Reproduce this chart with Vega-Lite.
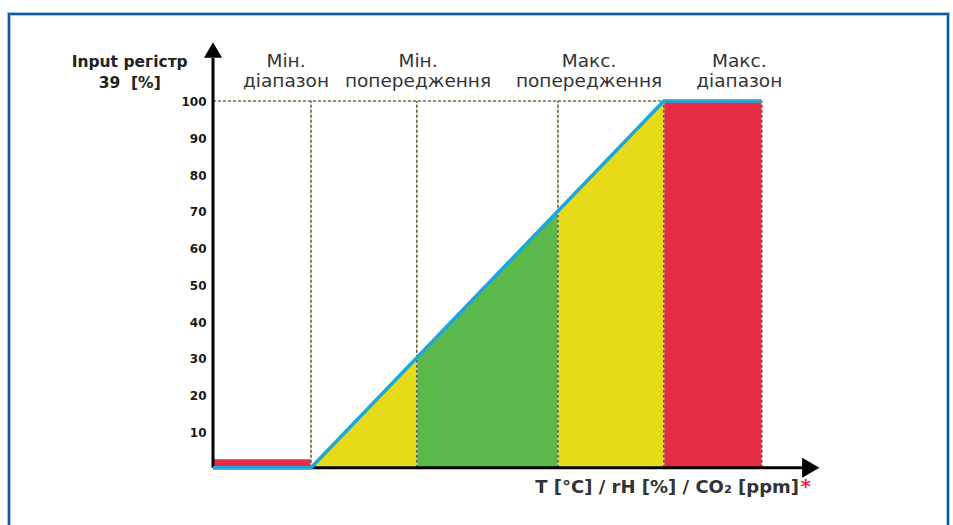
{
  "$schema": "https://vega.github.io/schema/vega-lite/v6.json",
  "width": 953,
  "height": 525,
  "autosize": "none",
  "padding": 0,
  "background": "white",
  "config": {"view": {"stroke": null}},
  "datasets": {
    "frame": [{"x": -20.82, "x2": 75.0, "y": -20, "y2": 123.73}],
    "minbar": [{"x": 0, "x2": 10, "y": 0, "y2": 2.3}],
    "zones": [
      {"zone": "y1", "x": 10, "y": 0}, {"zone": "y1", "x": 20.8, "y": 30},
      {"zone": "g", "x": 20.8, "y": 30}, {"zone": "g", "x": 35.2, "y": 70},
      {"zone": "y2", "x": 35.2, "y": 70}, {"zone": "y2", "x": 46, "y": 100},
      {"zone": "r", "x": 46, "y": 100}, {"zone": "r", "x": 56, "y": 100}
    ],
    "guides": [
      {"x": 0, "x2": 46, "y": 100, "y2": 100},
      {"x": 10, "x2": 10, "y": 0, "y2": 100},
      {"x": 20.8, "x2": 20.8, "y": 0, "y2": 100},
      {"x": 35.2, "x2": 35.2, "y": 0, "y2": 100},
      {"x": 46, "x2": 46, "y": 0, "y2": 100},
      {"x": 56, "x2": 56, "y": 0, "y2": 100}
    ],
    "axes": [
      {"x": 0, "x2": 0, "y": 0, "y2": 111.7},
      {"x": 0, "x2": 60.4, "y": 0, "y2": 0}
    ],
    "arrows": [
      {"x": 0, "y": 113.9, "shape": "triangle-up", "size": 324},
      {"x": 61.0, "y": 0, "shape": "triangle-right", "size": 400}
    ],
    "signal": [
      {"x": 0, "y": 0}, {"x": 10, "y": 0}, {"x": 46, "y": 100}, {"x": 56, "y": 100}
    ],
    "ticks": [
      {"x": -0.66, "y": 10, "label": "10"}, {"x": -0.66, "y": 20, "label": "20"},
      {"x": -0.66, "y": 30, "label": "30"}, {"x": -0.66, "y": 40, "label": "40"},
      {"x": -0.66, "y": 50, "label": "50"}, {"x": -0.66, "y": 60, "label": "60"},
      {"x": -0.66, "y": 70, "label": "70"}, {"x": -0.66, "y": 80, "label": "80"},
      {"x": -0.66, "y": 90, "label": "90"}, {"x": -0.66, "y": 100, "label": "100"}
    ],
    "headers": [
      {"x": 7.45, "y": 109.3, "label": "Мін."}, {"x": 7.45, "y": 103.8, "label": "діапазон"},
      {"x": 20.92, "y": 109.3, "label": "Мін."}, {"x": 20.92, "y": 103.8, "label": "попередження"},
      {"x": 38.37, "y": 109.3, "label": "Макс."}, {"x": 38.37, "y": 103.8, "label": "попередження"},
      {"x": 53.7, "y": 109.3, "label": "Макс."}, {"x": 53.7, "y": 103.8, "label": "діапазон"}
    ],
    "ytitle": [
      {"x": -8.5, "y": 109.3, "label": "Input регістр"},
      {"x": -8.5, "y": 103.6, "label": "39\u00a0 [%]"}
    ],
    "xtitle": [{"x": 59.8, "y": -6.9, "label": "T [°C] / rH [%] / CO₂ [ppm]"}],
    "asterisk": [{"x": 59.95, "y": -6.9, "label": "*"}]
  },
  "encoding": {
    "x": {"field": "x", "type": "quantitative", "axis": null,
          "scale": {"domain": [-21.7347, 75.5102], "nice": false, "zero": false}},
    "y": {"field": "y", "type": "quantitative", "axis": null,
          "scale": {"domain": [-15.63, 127.54], "nice": false, "zero": false}}
  },
  "layer": [
    {
      "data": {"name": "frame"},
      "mark": {"type": "rect", "fill": null, "stroke": "#a9c8e4", "strokeWidth": 4},
      "encoding": {"x2": {"field": "x2"}, "y2": {"field": "y2"}}
    },
    {
      "data": {"name": "frame"},
      "mark": {"type": "rect", "fill": null, "stroke": "#0f5a9c", "strokeWidth": 2},
      "encoding": {"x2": {"field": "x2"}, "y2": {"field": "y2"}}
    },
    {
      "data": {"name": "minbar"},
      "mark": {"type": "rect", "fill": "#e62c46"},
      "encoding": {"x2": {"field": "x2"}, "y2": {"field": "y2"}}
    },
    {
      "data": {"name": "zones"},
      "mark": {"type": "area", "opacity": 1},
      "encoding": {
        "y": {"field": "y", "type": "quantitative", "stack": null},
        "y2": {"datum": 0},
        "color": {"field": "zone", "type": "nominal", "legend": null,
                  "scale": {"domain": ["y1", "g", "y2", "r"],
                            "range": ["#e6da19", "#5bb94b", "#e6da19", "#e62c46"]}}
      }
    },
    {
      "data": {"name": "guides"},
      "mark": {"type": "rule", "color": "#f1e7a0", "strokeWidth": 1.2},
      "encoding": {"x2": {"field": "x2"}, "y2": {"field": "y2"}}
    },
    {
      "data": {"name": "guides"},
      "mark": {"type": "rule", "color": "#3a3630", "strokeWidth": 1.2, "strokeDash": [3, 2]},
      "encoding": {"x2": {"field": "x2"}, "y2": {"field": "y2"}}
    },
    {
      "data": {"name": "axes"},
      "mark": {"type": "rule", "color": "#000000", "strokeWidth": 3},
      "encoding": {"x2": {"field": "x2"}, "y2": {"field": "y2"}}
    },
    {
      "data": {"name": "arrows"},
      "mark": {"type": "point", "filled": true, "color": "#000000", "opacity": 1},
      "encoding": {
        "shape": {"field": "shape", "type": "nominal", "scale": null},
        "size": {"field": "size", "type": "quantitative", "scale": null}
      }
    },
    {
      "data": {"name": "signal"},
      "mark": {"type": "line", "color": "#1ba7da", "strokeWidth": 3.5, "strokeJoin": "miter"},
      "encoding": {}
    },
    {
      "data": {"name": "ticks"},
      "mark": {"type": "text", "align": "right", "baseline": "middle", "font": "DejaVu Sans",
               "fontWeight": "bold", "fontSize": 12, "color": "#1a1a1a", "dy": 1.5},
      "encoding": {"text": {"field": "label"}}
    },
    {
      "data": {"name": "headers"},
      "mark": {"type": "text", "align": "center", "baseline": "alphabetic", "font": "DejaVu Sans",
               "fontSize": 18.5, "color": "#333333"},
      "encoding": {"text": {"field": "label"}}
    },
    {
      "data": {"name": "ytitle"},
      "mark": {"type": "text", "align": "center", "baseline": "alphabetic", "font": "DejaVu Sans",
               "fontWeight": "bold", "fontSize": 15.5, "color": "#222222"},
      "encoding": {"text": {"field": "label"}}
    },
    {
      "data": {"name": "xtitle"},
      "mark": {"type": "text", "align": "right", "baseline": "alphabetic", "font": "DejaVu Sans",
               "fontWeight": "bold", "fontSize": 18, "color": "#333333"},
      "encoding": {"text": {"field": "label"}}
    },
    {
      "data": {"name": "asterisk"},
      "mark": {"type": "text", "align": "left", "baseline": "alphabetic", "font": "DejaVu Sans",
               "fontWeight": "bold", "fontSize": 20, "color": "#e62c46"},
      "encoding": {"text": {"field": "label"}}
    }
  ]
}
